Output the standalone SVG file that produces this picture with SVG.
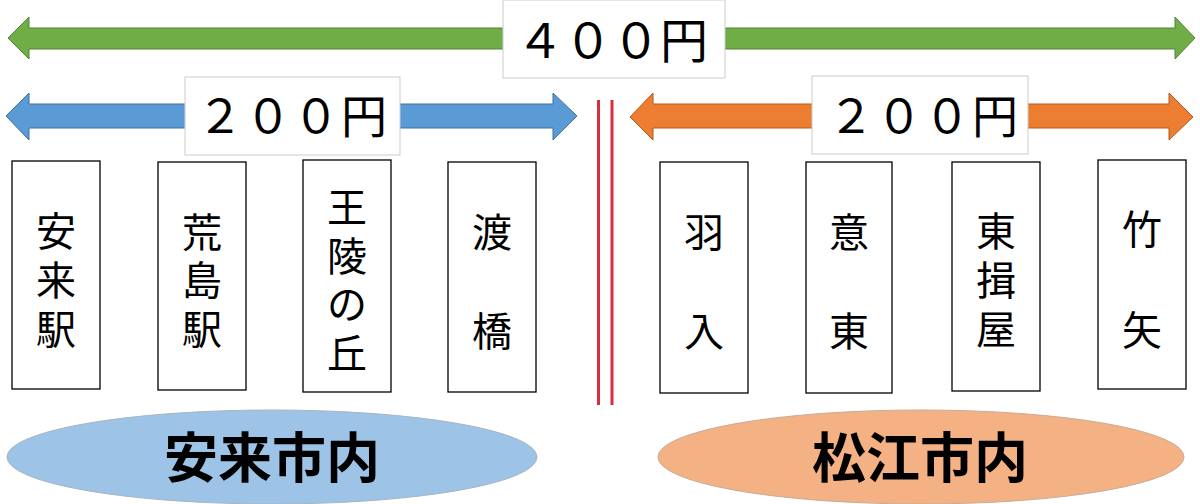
<svg xmlns="http://www.w3.org/2000/svg" width="1200" height="504" viewBox="0 0 1200 504">
<style>
.st{fill:#fff;stroke:#000;stroke-width:1.3}
.lb{fill:#fff;stroke:#cccccc;stroke-width:1}
.jp{font-family:"Noto Sans CJK JP","Noto Sans",sans-serif;fill:#000}
.sn{font-size:40px;text-anchor:middle}
.price{font-size:46px;letter-spacing:2px}
.area{font-size:54px;font-weight:bold;text-anchor:middle}
</style>
<rect width="1200" height="504" fill="#fff"/>
<g id="connectors">
<polygon id="arrow-400" points="8,38 29,17 29,28 1175,28 1175,17 1195,38 1175,59 1175,49 29,49 29,59" fill="#70ad47" stroke="#548235" stroke-width="1"/>
<polygon id="arrow-200-left" points="6,116 29,93 29,104 553,104 553,93 577,116 553,140 553,128 29,128 29,140" fill="#5b9bd5" stroke="#41719c" stroke-width="1"/>
<polygon id="arrow-200-right" points="630,117 653,93 653,104 1169,104 1169,93 1193,117 1169,140 1169,128 653,128 653,140" fill="#ed7d31" stroke="#ae5a21" stroke-width="1"/>
<g id="boundary" stroke="#d92f3c" stroke-width="3">
<line x1="598.5" y1="100" x2="598.5" y2="405"/>
<line x1="612" y1="100" x2="612" y2="405"/>
</g>
</g>
<g id="label-400">
<rect class="lb" x="503" y="0" width="222" height="78"/>
<text class="jp" x="516" y="58" font-size="48">４００円</text>
</g>
<g id="label-200-left">
<rect class="lb" x="185" y="77" width="215" height="78"/>
<text class="jp price" x="197" y="133">２００円</text>
</g>
<g id="label-200-right">
<rect class="lb" x="812" y="76" width="216" height="78"/>
<text class="jp price" x="828" y="133">２００円</text>
</g>
<g id="st-yasugi">
<rect class="st" x="12" y="161" width="88" height="228"/>
<text class="jp sn"><tspan x="56" y="246">安</tspan><tspan x="56" y="295">来</tspan><tspan x="56" y="344">駅</tspan></text>
</g>
<g id="st-arashima">
<rect class="st" x="158" y="162" width="88" height="228"/>
<text class="jp sn"><tspan x="202" y="247">荒</tspan><tspan x="202" y="295">島</tspan><tspan x="202" y="344">駅</tspan></text>
</g>
<g id="st-ouryounooka">
<rect class="st" x="303" y="160" width="88" height="232"/>
<text class="jp sn"><tspan x="347" y="222">王</tspan><tspan x="347" y="271">陵</tspan><tspan x="347" y="319">の</tspan><tspan x="347" y="368">丘</tspan></text>
</g>
<g id="st-watari">
<rect class="st" x="448" y="162" width="88" height="230"/>
<text class="jp sn"><tspan x="492" y="247">渡</tspan><tspan x="492" y="346">橋</tspan></text>
</g>
<g id="st-hanyu">
<rect class="st" x="660" y="162" width="88" height="231"/>
<text class="jp sn"><tspan x="704" y="247">羽</tspan><tspan x="704" y="346">入</tspan></text>
</g>
<g id="st-ou">
<rect class="st" x="806" y="162" width="86" height="231"/>
<text class="jp sn"><tspan x="849" y="247">意</tspan><tspan x="849" y="346">東</tspan></text>
</g>
<g id="st-higashiizumo">
<rect class="st" x="952" y="162" width="88" height="229"/>
<text class="jp sn"><tspan x="996" y="246">東</tspan><tspan x="996" y="295">揖</tspan><tspan x="996" y="344">屋</tspan></text>
</g>
<g id="st-takeya">
<rect class="st" x="1098" y="160" width="88" height="229"/>
<text class="jp sn"><tspan x="1142" y="244">竹</tspan><tspan x="1142" y="345">矢</tspan></text>
</g>
<g id="area-yasugi">
<ellipse cx="272" cy="457" rx="265" ry="47" fill="#9dc3e6" stroke="#a6b4c2" stroke-width="1"/>
<text class="jp area" x="272" y="478">安来市内</text>
</g>
<g id="area-matsue">
<ellipse cx="921" cy="457" rx="263" ry="47" fill="#f4b183" stroke="#c8aa96" stroke-width="1"/>
<text class="jp area" x="920" y="478">松江市内</text>
</g>
</svg>
